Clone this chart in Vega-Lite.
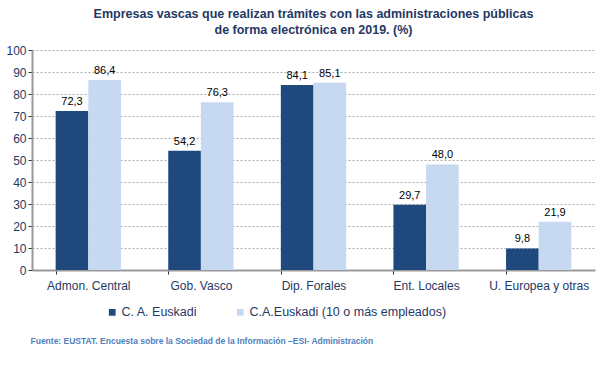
{
  "$schema": "https://vega.github.io/schema/vega-lite/v6.json",
  "width": 563,
  "height": 220,
  "padding": {"left": 5, "top": 7, "right": 5, "bottom": 5},
  "background": "white",
  "title": {
    "text": ["Empresas vascas que realizan trámites con las administraciones públicas", "de forma electrónica en 2019. (%)"],
    "font": "Liberation Sans",
    "fontSize": 12.5,
    "fontWeight": "bold",
    "color": "#1F3864",
    "lineHeight": 16,
    "offset": 8,
    "anchor": "middle"
  },
  "data": {
    "values": [
      {"cat": "Admon. Central", "serie": "C. A. Euskadi", "v": 72.3, "label": "72,3"},
      {"cat": "Admon. Central", "serie": "C.A.Euskadi (10 o más empleados)", "v": 86.4, "label": "86,4"},
      {"cat": "Gob. Vasco", "serie": "C. A. Euskadi", "v": 54.2, "label": "54,2"},
      {"cat": "Gob. Vasco", "serie": "C.A.Euskadi (10 o más empleados)", "v": 76.3, "label": "76,3"},
      {"cat": "Dip. Forales", "serie": "C. A. Euskadi", "v": 84.1, "label": "84,1"},
      {"cat": "Dip. Forales", "serie": "C.A.Euskadi (10 o más empleados)", "v": 85.1, "label": "85,1"},
      {"cat": "Ent. Locales", "serie": "C. A. Euskadi", "v": 29.7, "label": "29,7"},
      {"cat": "Ent. Locales", "serie": "C.A.Euskadi (10 o más empleados)", "v": 48.0, "label": "48,0"},
      {"cat": "U. Europea y otras", "serie": "C. A. Euskadi", "v": 9.8, "label": "9,8"},
      {"cat": "U. Europea y otras", "serie": "C.A.Euskadi (10 o más empleados)", "v": 21.9, "label": "21,9"}
    ]
  },
  "encoding": {
    "x": {
      "field": "cat",
      "type": "nominal",
      "sort": null,
      "scale": {"paddingInner": 0.42, "paddingOuter": 0.21},
      "axis": {
        "title": "Fuente: EUSTAT. Encuesta sobre la Sociedad de la Información –ESI- Administración",
        "titleFont": "Liberation Sans",
        "titleFontSize": 8.5,
        "titleFontWeight": "bold",
        "titleColor": "#4F81BD",
        "titleAnchor": null,
        "titleAlign": "left",
        "titleBaseline": "middle",
        "titleX": -2,
        "titleY": 70,
        "labelAngle": 0,
        "labelFont": "Liberation Sans",
        "labelFontSize": 12,
        "labelColor": "#1F3864",
        "labelPadding": 6,
        "bandPosition": 0,
        "tickColor": "#333333",
        "tickSize": 4,
        "tickOffset": 0,
        "domainColor": "#999999",
        "domainWidth": 2,
        "grid": false
      }
    },
    "xOffset": {"field": "serie", "type": "nominal", "sort": ["C. A. Euskadi", "C.A.Euskadi (10 o más empleados)"], "scale": {"paddingInner": 0}},
    "y": {
      "field": "v",
      "type": "quantitative",
      "scale": {"domain": [0, 100]},
      "axis": {
        "title": null,
        "values": [0, 10, 20, 30, 40, 50, 60, 70, 80, 90, 100],
        "labelFont": "Liberation Sans",
        "labelFontSize": 12,
        "labelColor": "#1F3864",
        "labelPadding": 2,
        "tickColor": "#333333",
        "tickSize": 4,
        "domainColor": "#999999",
        "domainWidth": 2,
        "gridColor": "#AAAAAA",
        "gridDash": [2, 2],
        "gridWidth": 1
      }
    }
  },
  "layer": [
    {
      "mark": {"type": "bar"},
      "encoding": {
        "color": {
          "field": "serie",
          "type": "nominal",
          "scale": {"domain": ["C. A. Euskadi", "C.A.Euskadi (10 o más empleados)"], "range": ["#1F497D", "#C6D9F1"]},
          "legend": {
            "title": null,
            "orient": "none",
            "direction": "horizontal",
            "legendX": 74,
            "legendY": 256,
            "symbolType": "square",
            "symbolSize": 45,
            "symbolStrokeWidth": 0,
            "labelFont": "Liberation Sans",
            "labelFontSize": 12.5,
            "labelColor": "#1F3864",
            "labelOffset": 3,
            "labelLimit": 0,
            "columnPadding": 36
          }
        }
      }
    },
    {
      "mark": {"type": "text", "baseline": "bottom", "dy": -4, "font": "Liberation Sans", "fontSize": 11, "color": "#000000"},
      "encoding": {"text": {"field": "label"}}
    }
  ],
  "config": {"view": {"stroke": null}}
}
